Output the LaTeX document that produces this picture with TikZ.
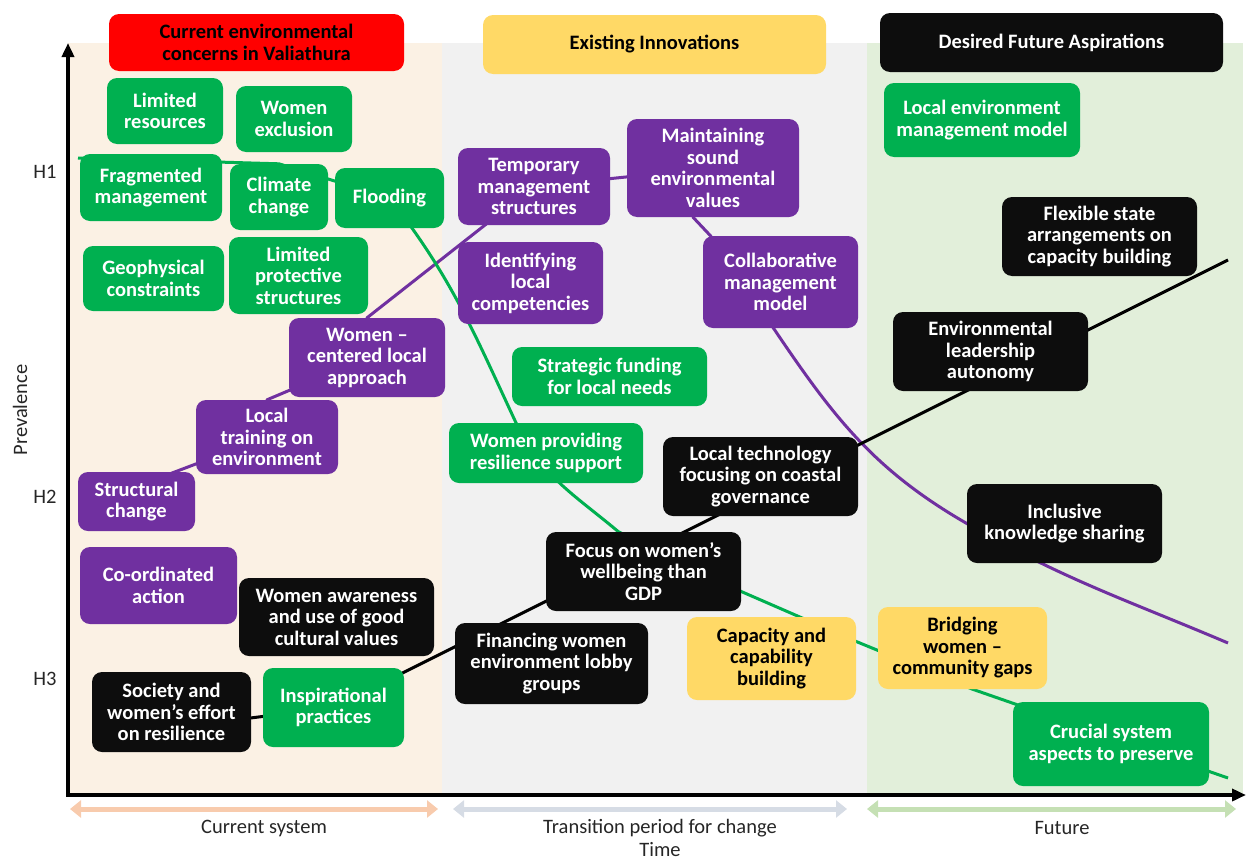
\documentclass[tikz,border=0pt]{standalone}
\usepackage{fontspec}
\setmainfont{Carlito}
\usetikzlibrary{arrows.meta, backgrounds}
\definecolor{boxgreen}{HTML}{00B050}
\definecolor{boxpurple}{HTML}{7030A0}
\definecolor{boxblack}{HTML}{0D0D0D}
\definecolor{boxyellow}{HTML}{FFD966}
\definecolor{boxred}{HTML}{FF0000}
\definecolor{panelbeige}{HTML}{FBF1E4}
\definecolor{panelgrey}{HTML}{F1F1F1}
\definecolor{panelgreen}{HTML}{E2EFDA}
\definecolor{spanorange}{HTML}{F8CBAD}
\definecolor{spangrey}{HTML}{D6DCE5}
\definecolor{spangreen}{HTML}{C5E0B4}
\definecolor{labelgrey}{HTML}{262626}
\tikzstyle{trend} = [line width=3pt, line join=round]
\tikzstyle{span} = [line width=5pt, {Triangle[length=11pt,width=17pt]}-{Triangle[length=11pt,width=17pt]}]

\begin{document}
\begin{tikzpicture}[
  x=1pt, y=-1pt,
  font=\fontsize{20.5}{21.5}\selectfont,
  box/.style={rounded corners=10pt, align=center, inner sep=0pt,
    font=\fontsize{20.5}{21.5}\selectfont\bfseries},
  gbox/.style={box, fill=boxgreen, text=white},
  pbox/.style={box, fill=boxpurple, text=white},
  kbox/.style={box, fill=boxblack, text=white, minimum width=195, minimum height=79},
  ybox/.style={box, fill=boxyellow, text=black},
  ]
  \useasboundingbox (0,0) rectangle (1247,862);
  % column headers
  \node[box, fill=boxred, minimum width=295, minimum height=57] (concerns) at (256.5,42.5) {Current environmental\\concerns in Valiathura};
  \node[ybox, minimum width=343, minimum height=59] (innovations) at (654.5,44.5) {Existing Innovations};
  \node[kbox, minimum width=343, minimum height=59] (aspirations) at (1051.5,42.5) {Desired Future Aspirations};
  % green boxes
  \node[gbox, minimum width=116, minimum height=66] (resources) at (165,111) {Limited\\resources};
  \node[gbox, minimum width=116, minimum height=66] (exclusion) at (294,119) {Women\\exclusion};
  \node[gbox, minimum width=142, minimum height=67] (fragmented) at (151,187.5) {Fragmented\\management};
  \node[gbox, minimum width=98, minimum height=66] (climate) at (279,197) {Climate\\change};
  \node[gbox, minimum width=109, minimum height=60] (flooding) at (389.5,198) {Flooding};
  \node[gbox, minimum width=141, minimum height=65] (geophysical) at (153.5,278.5) {Geophysical\\constraints};
  \node[gbox, minimum width=139, minimum height=77] (protective) at (298.5,275.5) {Limited\\protective\\structures};
  \node[gbox, minimum width=196, minimum height=74] (localmodel) at (982,120) {Local environment\\management model};
  \node[gbox, minimum width=195, minimum height=59] (funding) at (609.5,376.5) {Strategic funding\\for local needs};
  \node[gbox, minimum width=194, minimum height=60] (providing) at (546,453) {Women providing\\resilience support};
  \node[gbox, minimum width=141, minimum height=79] (inspir) at (333.5,707.5) {Inspirational\\practices};
  \node[gbox, minimum width=196, minimum height=84] (crucial) at (1111,744) {Crucial system\\aspects to preserve};
  % purple boxes
  \node[pbox, minimum width=152, minimum height=77] (temporary) at (534,186.5) {Temporary\\management\\structures};
  \node[pbox, minimum width=172, minimum height=98] (maintaining) at (713,168) {Maintaining\\sound\\environmental\\values};
  \node[pbox, minimum width=145, minimum height=82] (identifying) at (530.5,283) {Identifying\\local\\competencies};
  \node[pbox, minimum width=155, minimum height=92] (collab) at (780.5,282) {Collaborative\\management\\model};
  \node[pbox, minimum width=156, minimum height=79] (centred) at (367,357.5) {Women –\\centered local\\approach};
  \node[pbox, minimum width=142, minimum height=74] (training) at (267,437) {Local\\training on\\environment};
  \node[pbox, minimum width=117, minimum height=59] (structural) at (136.5,501.5) {Structural\\change};
  \node[pbox, minimum width=157, minimum height=77] (coordinated) at (158.5,585.5) {Co-ordinated\\action};
  % black boxes
  \node[kbox] (flexible) at (1099.5,236.5) {Flexible state\\arrangements on\\capacity building};
  \node[kbox] (leadership) at (990.5,351.5) {Environmental\\leadership\\autonomy};
  \node[kbox] (technology) at (760.5,476.5) {Local technology\\focusing on coastal\\governance};
  \node[kbox] (inclusive) at (1064.5,523.5) {Inclusive\\knowledge sharing};
  \node[kbox] (gdp) at (643.5,571.5) {Focus on women’s\\wellbeing than\\GDP};
  \node[kbox, minimum height=78] (awareness) at (336.5,617) {Women awareness\\and use of good\\cultural values};
  \node[kbox, minimum width=159, minimum height=80] (society) at (171.5,712) {Society and\\women’s effort\\on resilience};
  \node[kbox, minimum width=193, minimum height=81] (financing) at (551.5,663.5) {Financing women\\environment lobby\\groups};
  % yellow boxes
  \node[ybox, minimum width=169, minimum height=83] (capacity) at (771.5,658.5) {Capacity and\\capability\\building};
  \node[ybox, minimum width=169, minimum height=82] (bridging) at (962.5,648) {Bridging\\women –\\community gaps};
  % axes and labels
  \coordinate (origin) at (68,795);
  \coordinate (ytop) at (68,43);
  \coordinate (xend) at (1246,795);
  \draw[line width=3.5pt, {Triangle[length=14pt,width=12pt]}-{Triangle[length=14pt,width=12pt]}] (ytop) -- (origin) -- (xend);
  \node[text=labelgrey] (h1) at (45,172) {H1};
  \node[text=labelgrey] (h2) at (45,497) {H2};
  \node[text=labelgrey] (h3) at (45,679) {H3};
  \node[text=labelgrey, rotate=90] (prevalence) at (20,410) {Prevalence};
  \coordinate (cur0) at (70,809);
  \coordinate (cur1) at (438,809);
  \coordinate (tra0) at (453,809);
  \coordinate (tra1) at (847,809);
  \coordinate (fut0) at (867,809);
  \coordinate (fut1) at (1236,809);
  \draw[span, spanorange] (cur0) -- (cur1);
  \draw[span, spangrey] (tra0) -- (tra1);
  \draw[span, spangreen] (fut0) -- (fut1);
  \node[text=labelgrey] (current) at (264,828) {Current system};
  \node[text=labelgrey] (transition) at (660,828) {Transition period for change};
  \node[text=labelgrey] (future) at (1062,828) {Future};
  \node[text=labelgrey, inner sep=1pt] (time) at (660,850) {Time};
  % free ends of the trend lines
  \coordinate (gstart) at (78,158);
  \coordinate (gend) at (1228,778);
  \coordinate (pend) at (1228,643);
  \coordinate (kend) at (1228,260);
  \begin{scope}[on background layer]
    \fill[panelbeige] (68,43) rectangle (442,795);
    \fill[panelgrey] (442,43) rectangle (867,795);
    \fill[panelgreen] (867,43) rectangle (1243,795);
    % trend lines pass behind the boxes
    \draw[trend, boxpurple] ([yshift=15pt]structural.center) -- (training.center) -- (training.north)
      -- (centred.center) -- (centred.north) -- (temporary.center) -- (maintaining.center)
      -- ([xshift=-20pt]maintaining.south) -- ([xshift=-70pt]collab.north) -- ([xshift=-7pt]collab.south)
      to[out=-56,in=150] (inclusive.west) to[out=-30,in=157] (pend);
    \draw[trend, boxgreen] (gstart) -- (climate.north) -- (flooding.center)
      to[out=-52,in=115] ([xshift=-30pt]providing.north)
      to[out=-65,in=140] ([xshift=-25pt]gdp.north) -- ([yshift=-20pt]gdp.east)
      -- ([yshift=17pt]capacity.east) -- ([xshift=10pt]bridging.south) -- (gend);
    \draw[trend, black] ([yshift=-16pt]society.center) -- (inspir.center) -- (kend);
  \end{scope}
\end{tikzpicture}
\end{document}
